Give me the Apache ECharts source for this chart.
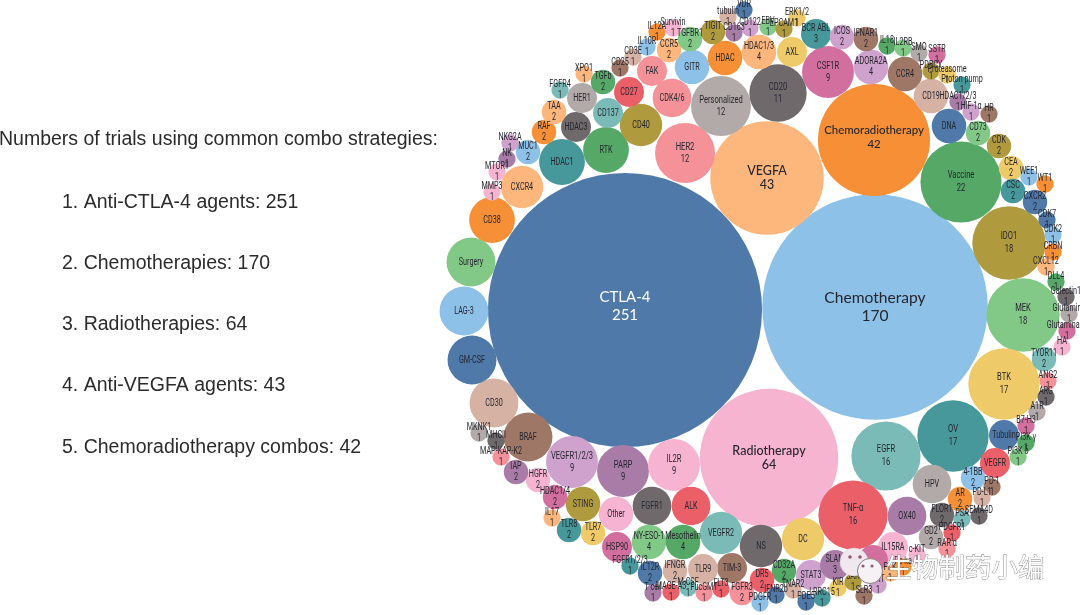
<!DOCTYPE html>
<html><head><meta charset="utf-8">
<style>html,body{margin:0;padding:0;background:#fff}#c{width:1080px;height:615px}</style>
<script src="https://cdn.jsdelivr.net/npm/echarts@6/dist/echarts.min.js"></script>
</head><body><div id="c"></div>
<script>
const summaryLines = ["Numbers of trials using common combo strategies:","1. Anti-CTLA-4 agents: 251","2. Chemotherapies: 170","3. Radiotherapies: 64","4. Anti-VEGFA agents: 43","5. Chemoradiotherapy combos: 42"];
const names = ["CTLA-4","Chemotherapy","Radiotherapy","VEGFA","Chemoradiotherapy","Vaccine","IDO1","MEK","BTK","OV",
"EGFR","TNF-α","HER2","Personalized","CD20","CSF1R","VEGFR1/2/3","PARP","IL2R","BRAF",
"CD30","GM-CSF","LAG-3","Surgery","CD38","CXCR4","HDAC1","RTK","CD40","DC",
"NS","VEGFR2","HPV","OX40","FGFR1","ALK","CDK4/6","ADORA2A","HDAC1/3","NY-ESO-1",
"Mesothelin","CCR4","CD19","DNA","GITR","HDAC","Other","STING","BCR ABL","FAK",
"CD27","CD137","HDAC3","HER1","AXL","Tubulin","VEGFR","IL15RA","STAT3","TIM-3",
"TLR9","HSP90","SLAM","","IFNAR1","CD73","CDK","CEA","CSC","CXCR2",
"TYOR11","4-1BB","AR","FLOR1","GD2","CD32A","DR5","FGFR3","IFNGR","IL12R",
"TLR8","TLR7","HDAC1/4","HGFR","IAP","MUC1","RAF","TAA","TGFb","CCR5",
"TGFBR1","TIGIT","ICOS","IL18","IL2RB","SMO","SSTR","PDBCY","Proteasome","Proton pump",
"HDAC1/2/3","HIF-1α","HR","WEE1","WT1","CDK7","CDK2","CRBN","CXCL12","DLL4",
"Galectin1","Glutamine","Glutaminase","HA","ANG2","ARG","A1R","B7-H3","PI3K γ","PI3K δ",
"PD-1","PD-L1","PSA","SEMA4D","PDGFR1","RAR α","c-KIT","Pe ka","PLK","CRT",
"KIR","JAK","SLR3","TNAR2","IFNR2b","PDGFR","PDE5","LRRC15","FLT3","FucGM1",
"M-CSF","MAGE-A3","T cell","FGFR1/2/3","IL17","MAP-KAP-K2","MHCII","MKNK1","NKG2A","NK",
"MTOR1","MMP3","FGFR4","XPO1","CD25","CD3E","IL10R","IL12A","Survivin","tubulin",
"VDR","CD163","CD122","EBV","EPCAM1","ERK1/2"];
const values = [251,170,64,43,42,22,18,18,17,17,
16,16,12,12,11,9,9,9,9,8,
8,8,8,8,7,6,7,7,6,6,
6,6,5,5,5,5,5,4,4,4,
4,4,4,4,4,4,4,4,3,3,
3,3,3,3,3,3,3,3,3,3,
3,3,3,3,2,2,2,2,2,2,
2,2,2,2,2,2,2,2,2,2,
2,2,2,2,2,2,2,2,2,2,
2,2,2,1,1,1,1,1,1,1,
1,1,1,1,1,1,1,1,1,1,
1,1,1,1,1,1,1,1,1,1,
1,1,1,1,1,1,1,1,1,1,
1,1,1,1,1,1,1,1,1,1,
1,1,1,1,1,1,1,1,1,1,
1,1,1,1,1,1,1,1,1,1,
1,1,1,1,1,1];
const xs = [625,875,769,767,874,961,1009,1023,1004,953,
886,853,685,721,778,828,572,623,674,528,
494,472,464,471,492,522,562,606,641,803,
761,721,932,907,652,691,672,871,759,649,
683,905,931,949,692,725,616,583,816,652,
629,608,576,582,792,1004,995,893,811,732,
703,617,835,873,866,978,999,1011,1013,1035,
1044,973,960,942,931,784,762,742,675,650,
569,593,555,538,516,528,544,554,603,669,
690,713,842,887,903,919,937,931,947,962,
958,971,989,1029,1045,1047,1053,1053,1046,1056,
1066,1069,1067,1062,1048,1046,1037,1026,1026,1018,
992,982,962,979,952,947,917,903,890,878,
838,853,864,793,776,760,806,822,721,704,
688,671,653,630,552,501,496,479,510,507,
497,492,560,584,620,633,647,657,673,728,
744,734,750,768,784,797];
const ys = [310,307,458,178,140,182,243,315,384,436,
456,515,153,106,93,72,462,471,465,437,
403,360,311,262,220,187,162,150,125,539,
546,533,484,516,506,506,98,67,52,542,
542,74,96,126,67,58,514,504,34,71,
92,113,127,98,52,435,463,547,575,568,
569,547,565,560,39,133,146,168,191,202,
359,478,499,515,537,571,580,593,571,573,
530,533,497,480,472,152,132,112,82,50,
39,32,37,46,48,53,55,71,75,85,
102,112,114,177,184,220,235,252,267,282,
297,314,331,347,381,397,412,426,443,457,
487,498,519,516,533,549,555,567,573,585,
588,582,596,590,595,603,602,598,589,593,
588,592,593,566,518,457,441,433,143,159,
172,192,90,74,68,57,47,32,28,17,
10,33,28,27,29,18];
const colorKeys = ("B b m o O G L g Y T "+
"t R P d D M u U m N "+
"n B b g O o T G L Y "+
"D t d U D R P u o g "+
"G N n B b O m L T P "+
"R t D d Y B R m u N "+
"n M U M N g L Y T B "+
"t b O D d G R P n B "+
"T Y M m U b O o G o "+
"g L u G g d M L Y T "+
"U u N b O B b O o G "+
"D d M m P D d M G g "+
"N n t D R P m O o u "+
"Y L N n B b B T R P "+
"t R U T o P D d u U "+
"m m t o N n b O m n "+
"B U u g L Y").split(" ");
const noNumberShown = ["BRAF","CD30","GM-CSF","LAG-3","Surgery","CD38","CXCR4","HDAC1","RTK","CD40","DC","NS","VEGFR2","HPV","OX40","FGFR1","ALK","CDK4/6","CCR4","CD19","DNA","GITR","HDAC","Other","STING","FAK","CD27","CD137","HDAC3","HER1","AXL","Tubulin","VEGFR","IL15RA","STAT3","TIM-3","TLR9","HSP90",""];
const palette = {B:"#4E79A9",b:"#8EC1E8",O:"#F68F35",o:"#FDB67C",G:"#55A866",g:"#82C987",L:"#B09A3E",Y:"#EECB68",T:"#46989A",t:"#7ABBB8",R:"#EA5F68",P:"#F59299",D:"#6F696C",d:"#B2AAA8",M:"#D26F9E",m:"#F7B4D1",U:"#A97CA8",u:"#CFA1CD",N:"#9F7767",n:"#D6B2A4"};

const RADIUS_PER_SQRT_VALUE = 8.65;
function labelFont(v){
  if(v===251) return '15px Lato';
  if(v===170) return '15.6px Lato';
  if(v===42) return '500 11.4px Lato';
  if(v>=43) return '500 12.5px Lato';
  return (v>=9?'10.5':'10')+'px Roboto';
}
function labelLineHeight(v){ return v===251||v===170?18: v>=42?14: v>=16?13: v>=9?12: 11; }
function labelShift(v){ return v===251?-4: v===42?-3: 0; }

const chart = echarts.init(document.getElementById('c'),null,{renderer:'canvas'});
const textEls = summaryLines.map((t,i)=>({
  type:'text',left:i===0?-1:62,top:i===0?130:192.5+(i-1)*61.2,
  style:{text:t,font:'19.5px "Liberation Sans"',fill:'#2b2b2b'}
}));
chart.setOption({
  animation:false,
  grid:{left:0,right:0,top:0,bottom:0},
  xAxis:{type:'value',min:0,max:1080,show:false},
  yAxis:{type:'value',min:0,max:615,inverse:true,show:false},
  series:[{
    type:'scatter',
    data:names.map((n,i)=>({value:[xs[i],ys[i],values[i],n],itemStyle:{color:palette[colorKeys[i]],opacity:1}})),
    symbol:'circle',
    symbolSize:d=>2*RADIUS_PER_SQRT_VALUE*Math.sqrt(d[2]),
    emphasis:{disabled:true},
    z:2
  },{
    type:'custom',
    coordinateSystem:'cartesian2d',
    clip:false,
    silent:true,
    z:3,
    data:names.map((n,i)=>[xs[i],ys[i],i]),
    renderItem:function(params,api){
      const i=api.value(2), p=api.coord([api.value(0),api.value(1)]), v=values[i], n=names[i];
      return {type:'text',x:p[0],y:p[1]+labelShift(v),scaleX:v>=42?1:0.72,
        style:{text:noNumberShown.includes(n)?n:n+"\n"+v,font:labelFont(v),
          lineHeight:labelLineHeight(v),align:'center',verticalAlign:'middle',
          fill:n==="CTLA-4"?"#ffffff":"#26262e"}};
    }
  }],
  graphic:textEls.concat([
      {type:'circle',z:50,shape:{cx:854,cy:562,r:14},style:{fill:'#f0e8ee',stroke:'#d0c8ce',lineWidth:0.5}},
      {type:'circle',z:50,shape:{cx:850,cy:557,r:1.8},style:{fill:'#8a5d78'}},
      {type:'circle',z:50,shape:{cx:860,cy:557,r:1.8},style:{fill:'#8a5d78'}},
      {type:'circle',z:51,shape:{cx:870,cy:571,r:12.5},style:{fill:'#f6f1f4',stroke:'#8a8085',lineWidth:1}},
      {type:'circle',z:52,shape:{cx:863,cy:566,r:1.6},style:{fill:'#8a5d78'}},
      {type:'circle',z:52,shape:{cx:872,cy:566,r:1.6},style:{fill:'#8a5d78'}},
      {type:'text',z:60,left:885,top:553,style:{text:'生物制药小编',font:'26.5px "Noto Sans CJK SC"',fill:'#ffffff',stroke:'#7f7f7f',lineWidth:0.8}}
  ])
});
</script></body></html>
